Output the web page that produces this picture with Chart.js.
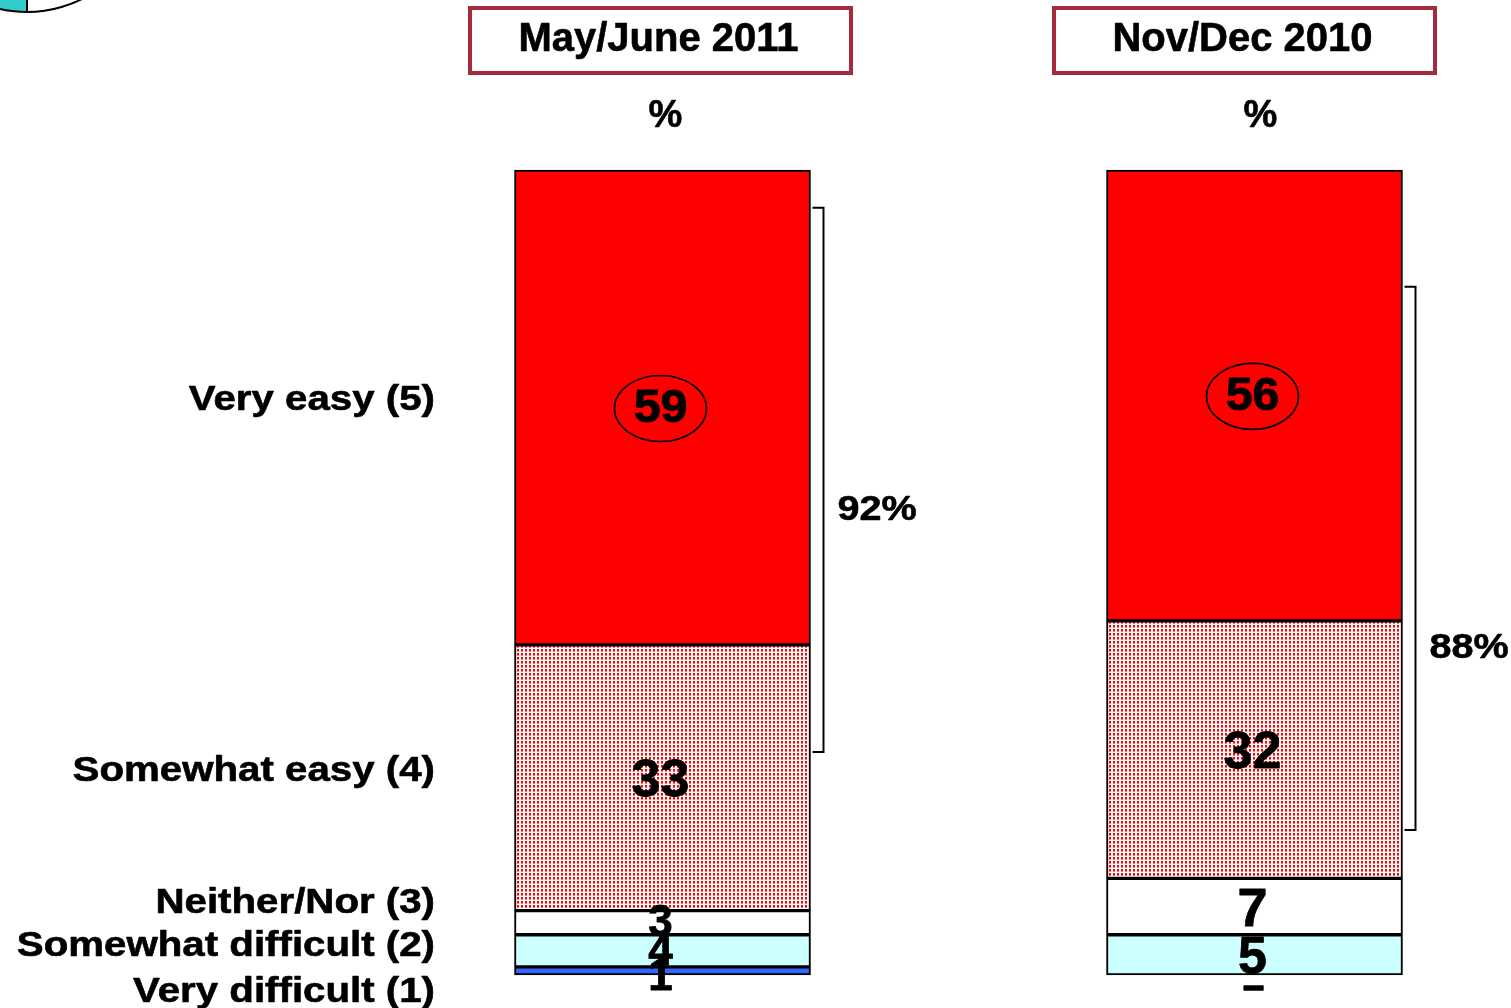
<!DOCTYPE html>
<html>
<head>
<meta charset="utf-8">
<title>Ease ratings: May/June 2011 vs Nov/Dec 2010</title>
<script src="https://cdn.jsdelivr.net/npm/chart.js@4/dist/chart.umd.min.js"></script>
<style>
  html, body { margin: 0; padding: 0; background: #ffffff; }
  #wrap { width: 1511px; height: 1008px; }
</style>
</head>
<body>
<div id="wrap"><canvas id="c" width="1511" height="1008"></canvas></div>
<script>
// Survey waves (one stacked bar each)
const categories = ['May/June 2011', 'Nov/Dec 2010'];

// Answer scale, bottom of the stack first
const seriesLabels = ['Very difficult (1)', 'Somewhat difficult (2)', 'Neither/Nor (3)', 'Somewhat easy (4)', 'Very easy (5)'];

// Percentages per wave
const veryDifficult     = [1, 0];
const somewhatDifficult = [4, 5];
const neitherNor        = [3, 7];
const somewhatEasy      = [33, 32];
const veryEasy          = [59, 56];

const FONT = '"Liberation Sans", Arial, Helvetica, sans-serif';

// Dotted red fill for "Somewhat easy"
function dotPattern() {
  const t = document.createElement('canvas');
  t.width = 4; t.height = 4;
  const g = t.getContext('2d');
  g.fillStyle = '#ffffff';
  g.fillRect(0, 0, 4, 4);
  g.fillStyle = '#ff0000';
  g.fillRect(1, 1, 2, 2);
  g.fillStyle = '#ff7070';
  g.fillRect(1, 3, 2, 1);
  return document.getElementById('c').getContext('2d').createPattern(t, 'repeat');
}

// Heavy bold text with a horizontal stretch; cy is the centre of the cap height
function stretchText(ctx, text, x, cy, size, align, stretch, heavy) {
  ctx.save();
  ctx.font = 'bold ' + size + 'px ' + FONT;
  ctx.textAlign = align;
  ctx.textBaseline = 'alphabetic';
  ctx.fillStyle = '#000000';
  ctx.strokeStyle = '#000000';
  ctx.lineJoin = 'round';
  ctx.translate(x, cy + size * 0.716 / 2);
  ctx.scale(stretch, 1);
  ctx.fillText(text, 0, 0);
  if (heavy) {
    ctx.lineWidth = heavy;
    ctx.strokeText(text, 0, 0);
  }
  ctx.restore();
}

const decorations = {
  id: 'decorations',
  beforeDraw(chart) {
    const ctx = chart.ctx;
    ctx.save();
    ctx.fillStyle = '#ffffff';
    ctx.fillRect(0, 0, chart.width, chart.height);

    // corner of a neighbouring pie
    ctx.beginPath();
    ctx.moveTo(27, -111);
    ctx.arc(27, -111, 123, Math.PI / 2, Math.PI / 2 + 0.6, false);
    ctx.closePath();
    ctx.fillStyle = '#33cccc';
    ctx.fill();
    ctx.beginPath();
    ctx.arc(27, -111, 123, 0.5, Math.PI, false);
    ctx.strokeStyle = '#000000';
    ctx.lineWidth = 2;
    ctx.stroke();
    ctx.beginPath();
    ctx.moveTo(27, 12);
    ctx.lineTo(27, 0);
    ctx.stroke();
    ctx.restore();
  },
  afterDatasetsDraw(chart, args, opts) {
    const ctx = chart.ctx;
    const y = chart.scales.y;
    const metas = chart.data.datasets.map((d, i) => chart.getDatasetMeta(i));
    const half = opts.barWidth / 2;

    // Wave headers in framed boxes, with "%" underneath
    categories.forEach((cat, i) => {
      const cx = metas[0].data[i].x;
      const h = opts.headers[i];
      const bx = cx + h.shift - 190.5, bw = 381;
      ctx.save();
      ctx.strokeStyle = '#a52a3c';
      ctx.lineWidth = 4;
      ctx.strokeRect(bx, 8, bw, 65);
      ctx.restore();
      stretchText(ctx, cat, cx + h.shift - 2, 37, 40, 'center', 1.0, 0.6);
      stretchText(ctx, '%', cx + h.pct, 113, 38, 'center', 1.0, 0.6);
    });

    // Series names on the left, next to the first bar's segments
    seriesLabels.forEach((name, d) => {
      const el = metas[d].data[0];
      const cy = (el.y + el.base) / 2 + opts.nameNudge[d];
      stretchText(ctx, name, 435, cy, 35, 'right', 1.15, 0.6);
    });

    // Value labels inside the segments
    const top = chart.data.datasets.length - 1;
    chart.data.datasets.forEach((ds, d) => {
      ds.data.forEach((v, i) => {
        const el = metas[d].data[i];
        if (v === 0) {
          stretchText(ctx, '\u2013', el.x - 1, el.base + 10, 40, 'center', 0.95, 1.6);
          return;
        }
        const mid = (el.y + el.base) / 2;
        const size = opts.valueSize[d][i];
        if (d === top) {
          // circled headline figure
          stretchText(ctx, String(v), el.x - 2, mid - 2, size, 'center', 1.05, 0.9);
          ctx.save();
          ctx.beginPath();
          ctx.ellipse(el.x - 2, mid + 1, 46, 33, 0, 0, Math.PI * 2);
          ctx.strokeStyle = '#000000';
          ctx.lineWidth = 1.6;
          ctx.stroke();
          ctx.restore();
        } else {
          const cy = mid + (v < 2 ? 5 : 0) - (v < 5 ? 2 : 0);
          stretchText(ctx, String(v), el.x - 2, cy, size, 'center', 1.0, 0.8);
        }
      });
    });

    // Top-two-box brackets with their net percentage
    opts.brackets.forEach((b, i) => {
      const el = metas[0].data[i];
      const x0 = el.x + half + 2;
      const x1 = x0 + 11;
      const yt = y.getPixelForValue(b.top);
      const yb = y.getPixelForValue(b.bottom);
      ctx.save();
      ctx.strokeStyle = '#000000';
      ctx.lineWidth = 2;
      ctx.beginPath();
      ctx.moveTo(x0, yt);
      ctx.lineTo(x1, yt);
      ctx.lineTo(x1, yb);
      ctx.lineTo(x0, yb);
      ctx.stroke();
      ctx.restore();
      const net = somewhatEasy[i] + veryEasy[i];
      stretchText(ctx, net + '%', x1 + 14, y.getPixelForValue(b.label), 35, 'left', 1.13, 0.6);
    });
  }
};

const BAR_W = 296;
const fills = ['#3366ff', '#ccffff', '#ffffff', dotPattern(), '#ff0000'];
const seriesValues = [veryDifficult, somewhatDifficult, neitherNor, somewhatEasy, veryEasy];

new Chart(document.getElementById('c'), {
  type: 'bar',
  data: {
    labels: categories,
    datasets: seriesValues.map((vals, d) => ({
      label: seriesLabels[d],
      data: vals,
      backgroundColor: fills[d],
      borderColor: '#000000',
      borderWidth: 2,
      borderSkipped: false,
      barThickness: BAR_W,
      clip: false
    }))
  },
  options: {
    responsive: false,
    animation: false,
    events: [],
    layout: { padding: { left: 662.5, right: 256.5, top: 170, bottom: 33 } },
    scales: {
      x: { stacked: true, offset: false, display: false },
      y: { stacked: true, min: 0, max: 100, display: false }
    },
    plugins: {
      legend: { display: false },
      title: { display: false },
      tooltip: { enabled: false },
      decorations: {
        barWidth: BAR_W,
        headers: [{ shift: -2, pct: 3 }, { shift: -10, pct: 6 }],
        nameNudge: [18, -7, -22, -9, -10],
        // font size of the value label in each segment, per series and wave
        valueSize: [[44, 44], [44, 52], [44, 54], [52, 52], [46, 46]],
        brackets: [
          { top: 95.3, bottom: 27.7, label: 58.1 },
          { top: 85.5, bottom: 18.0, label: 40.9 }
        ]
      }
    }
  },
  plugins: [decorations]
});
</script>
</body>
</html>
